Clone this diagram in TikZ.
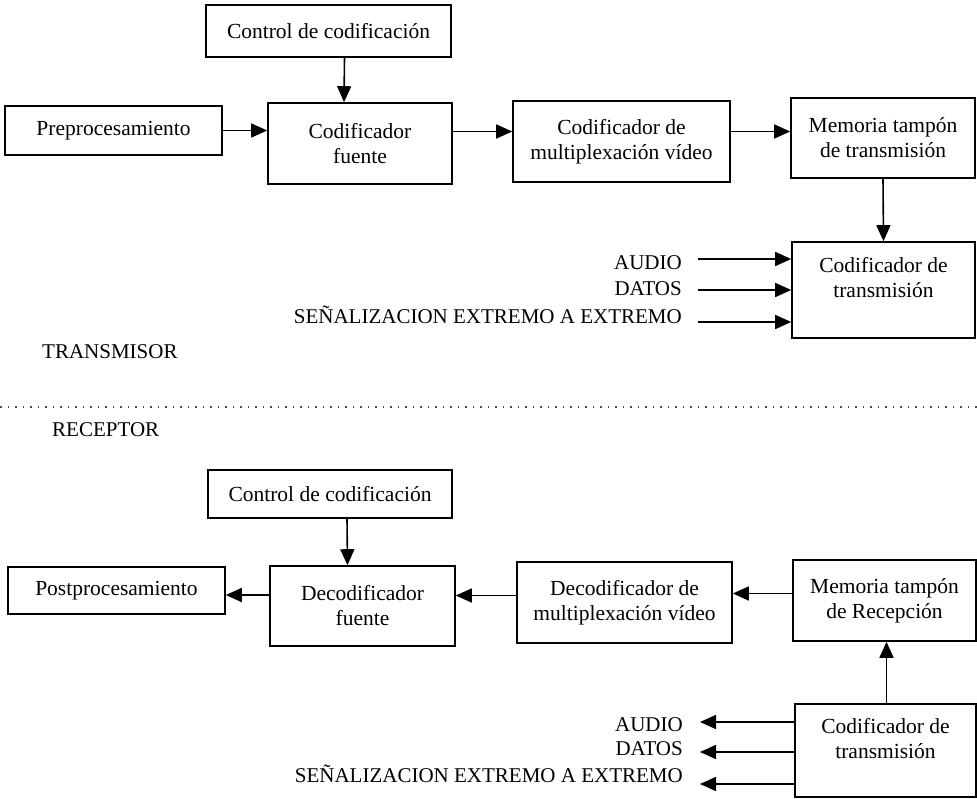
\documentclass[tikz,border=0pt]{standalone}
\usepackage{fontspec}
\setmainfont{Liberation Serif}
\usepackage{tikz}
\usetikzlibrary{positioning,arrows.meta,calc}
\tikzset{
block/.style={
draw,
line width=1.6pt,
align=center,
inner sep=2pt,
font=\fontsize{21.5}{25}\selectfont
},
sig/.style={
anchor=east,
inner sep=0pt,
font=\fontsize{21}{25}\selectfont
},
side/.style={
anchor=west,
inner sep=0pt,
font=\fontsize{21}{25}\selectfont
},
arrow/.style={
-{Triangle[length=16pt,width=14pt]},
line width=1.6pt
},
sepline/.style={
black!70,
line width=1.2pt,
dash pattern=on 1.5pt off 6pt
}
}

\begin{document}
\begin{tikzpicture}[x=1pt,y=-1pt]
\useasboundingbox (0,0) rectangle (977,799);

% transmisor
\node[block,minimum width=245pt,minimum height=52pt](ctrlT) at (328.5,31){Control de codificación};
\node[block,minimum width=217pt,minimum height=49pt](pre) at (113.5,130.5){Preprocesamiento};
\node[block,minimum width=184pt,minimum height=81pt](fuente) at (360,143.5){Codificador\\fuente};
\node[block,minimum width=217pt,minimum height=81pt](mux) at (621.5,141.5){Codificador de\\multiplexación vídeo};
\node[block,minimum width=184pt,minimum height=80pt](memT) at (883,138){Memoria tampón\\de transmisión};
\node[block,minimum width=183pt,minimum height=96pt](ctxT) at (883.5,290){Codificador de\\transmisión\\\mbox{}};

\node[sig](audioT) at (682,263){AUDIO};
\node[sig](datosT) at (682,289){DATOS};
\node[sig](senT) at (682,315){SEÑALIZACION EXTREMO A EXTREMO};
\node[side](tx) at (42,352){TRANSMISOR};

\draw[arrow]([xshift=16pt]ctrlT.south)--([xshift=-16pt]fuente.north);
\draw[arrow](pre.east)--(pre.east -| fuente.west);
\draw[arrow]([yshift=12pt]fuente.east)--([yshift=12pt]fuente.east -| mux.west);
\draw[arrow]([yshift=10pt]mux.east)--([yshift=10pt]mux.east -| memT.west);
\draw[arrow](memT.south)--(ctxT.north);
\foreach \n/\y in {inA/259,inB/290,inC/322}{
\coordinate(\n) at (698,\y);
\draw[arrow](\n)--(\n -| ctxT.west);
}

% separacion
\coordinate(sepL) at (0,407);
\coordinate(sepR) at (977,407);
\draw[sepline](sepL)--(sepR);

% receptor
\node[side](rx) at (52,430){RECEPTOR};
\node[block,minimum width=244pt,minimum height=48pt](ctrlR) at (330,494){Control de codificación};
\node[block,minimum width=217pt,minimum height=47pt](post) at (116.5,590.5){Postprocesamiento};
\node[block,minimum width=185pt,minimum height=80pt](dfuente) at (362.5,606){Decodificador\\fuente};
\node[block,minimum width=215pt,minimum height=81pt](dmux) at (624.5,602.5){Decodificador de\\multiplexación vídeo};
\node[block,minimum width=183pt,minimum height=81pt](memR) at (884.5,600.5){Memoria tampón\\de Recepción};
\node[block,minimum width=181pt,minimum height=93pt](ctxR) at (885.5,750.5){Codificador de\\transmisión\\\mbox{}};

\node[sig](audioR) at (683,725){AUDIO};
\node[sig](datosR) at (683,749){DATOS};
\node[sig](senR) at (683,774){SEÑALIZACION EXTREMO A EXTREMO};

\draw[arrow]([xshift=17pt]ctrlR.south)--([xshift=-15pt]dfuente.north);
\draw[arrow]([yshift=11pt]dfuente.west)--([yshift=11pt]dfuente.west -| post.east);
\draw[arrow]([yshift=7pt]dmux.west)--([yshift=7pt]dmux.west -| dfuente.east);
\draw[arrow]([yshift=7pt]memR.west)--([yshift=7pt]memR.west -| dmux.east);
\draw[arrow]([xshift=1pt]ctxR.north)--([xshift=2pt]memR.south);
\foreach \n/\y in {outA/722,outB/752,outC/784}{
\coordinate(\n) at (700,\y);
\draw[arrow](\n -| ctxR.west)--(\n);
}
\end{tikzpicture}
\end{document}
